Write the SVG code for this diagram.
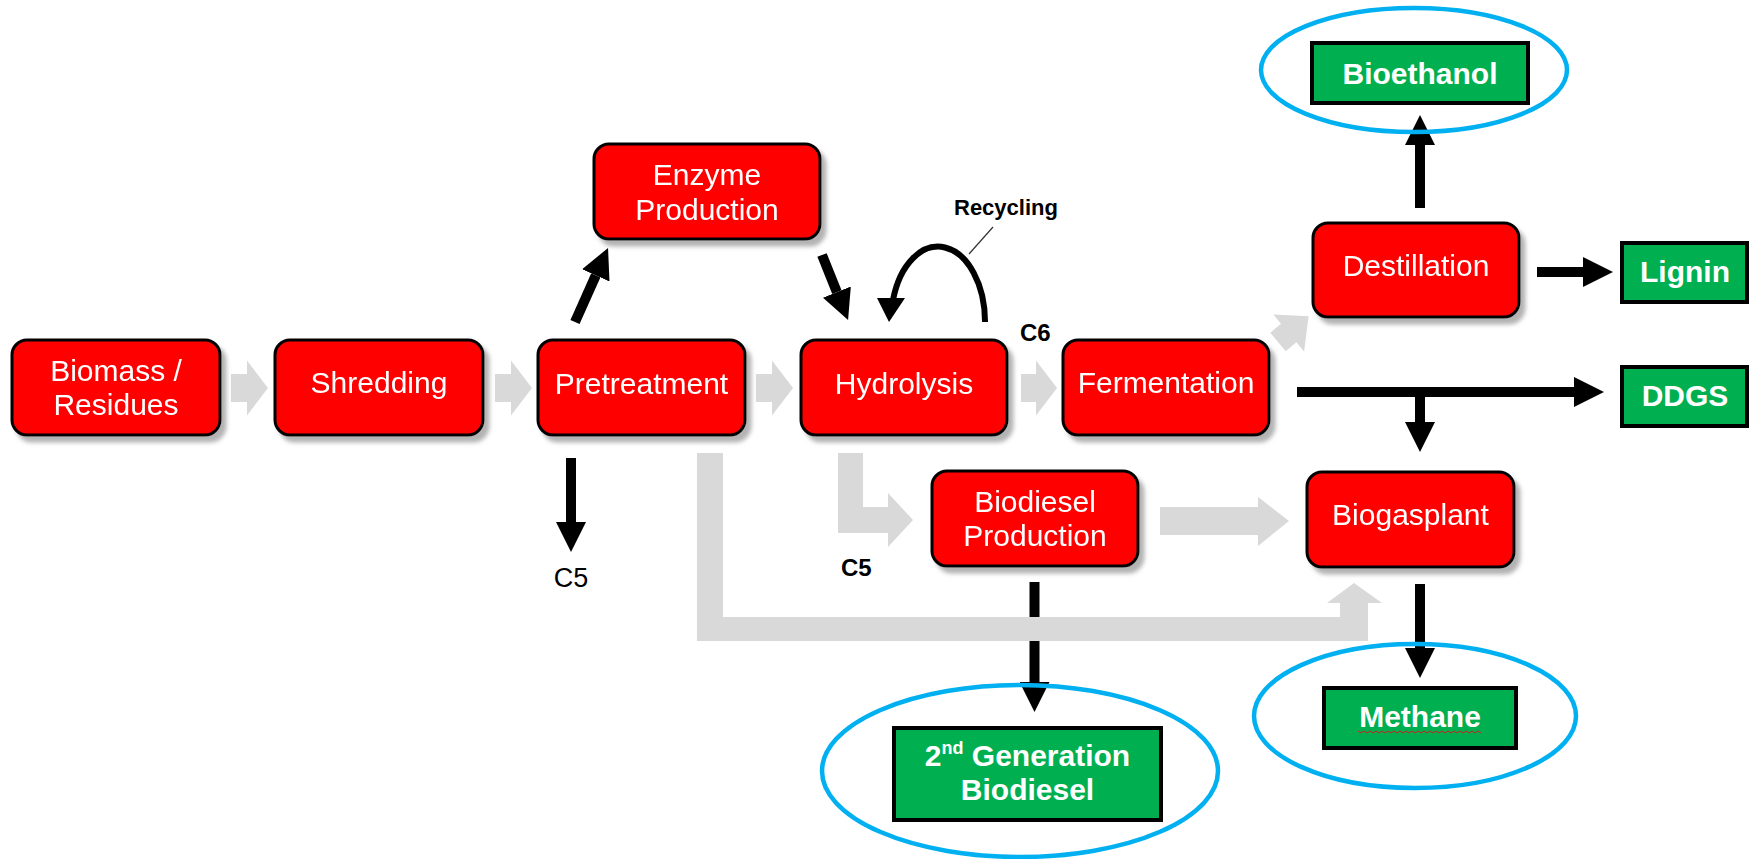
<svg xmlns="http://www.w3.org/2000/svg" width="1750" height="859" viewBox="0 0 1750 859">
<defs>
<style>
.box{fill:#ff0000;stroke:#000;stroke-width:3}
.gbox{fill:#00b050;stroke:#000;stroke-width:4}
.t{font-family:"Liberation Sans",Arial,sans-serif;font-size:30px;fill:#fff;text-anchor:middle}
.tb{font-weight:bold}
.lbl{font-family:"Liberation Sans",Arial,sans-serif;fill:#000}
.blk{stroke:#000;stroke-width:10;fill:none}
.gray{fill:#d9d9d9}
.ring{fill:none;stroke:#00b0f0;stroke-width:4.5}
</style>
<filter id="sh" x="-10%" y="-10%" width="130%" height="140%">
<feDropShadow dx="5" dy="6" stdDeviation="2" flood-color="#808080" flood-opacity="0.6"/>
</filter>
<marker id="ah" markerUnits="userSpaceOnUse" markerWidth="30" markerHeight="30" viewBox="0 0 30 30" refX="0" refY="15" orient="auto">
<path d="M0,0 L30,15 L0,30 z" fill="#000"/>
</marker>
</defs>
<rect width="1750" height="859" fill="#fff"/>

<g id="connectors">
<!-- gray flow arrows -->
<polygon class="gray" points="231,374 247,374 247,360.5 268,388 247,415.5 247,402 231,402"/>
<polygon class="gray" points="495,374 511,374 511,360.5 532,388 511,415.5 511,402 495,402"/>
<polygon class="gray" points="756,374 772,374 772,360.5 793,388 772,415.5 772,402 756,402"/>
<polygon class="gray" points="1021,374 1036,374 1036,360.5 1057,388 1036,415.5 1036,402 1021,402"/>
<polygon class="gray" points="1270.3,332.8 1281,323.8 1273.3,314.6 1308.6,316.3 1304.1,351.4 1296.4,342.2 1285.7,351.2"/>
<polygon class="gray" points="838,453 863,453 863,507 888,507 888,493 913,520 888,547 888,533 838,533"/>
<polygon class="gray" points="1160,507 1258,507 1258,497 1289,521 1258,546 1258,535 1160,535"/>
<!-- black arrows -->
<line class="blk" x1="571" y1="458" x2="571" y2="522" marker-end="url(#ah)"/>
<line class="blk" x1="575" y1="322" x2="595.8" y2="275.4" marker-end="url(#ah)"/>
<line class="blk" x1="822" y1="255" x2="836.9" y2="292.1" marker-end="url(#ah)"/>
<line class="blk" x1="1420" y1="208" x2="1420" y2="145" marker-end="url(#ah)"/>
<line class="blk" x1="1537" y1="272" x2="1583" y2="272" marker-end="url(#ah)"/>
<line class="blk" x1="1297" y1="392" x2="1574" y2="392" marker-end="url(#ah)"/>
<line class="blk" x1="1420" y1="392" x2="1420" y2="422" marker-end="url(#ah)"/>
<line class="blk" x1="1420" y1="584" x2="1420" y2="648" marker-end="url(#ah)"/>
<line class="blk" x1="1034.5" y1="582" x2="1034.5" y2="682" marker-end="url(#ah)"/>
<!-- gray L path from pretreatment to biogas plant (drawn over black line) -->
<polygon class="gray" points="697,453 723,453 723,617 1340,617 1340,603 1327,603 1354,583 1382,603 1368,603 1368,641 697,641"/>
<!-- recycling loop -->
<path d="M 985 322 A 47 75 0 0 0 893 300" fill="none" stroke="#000" stroke-width="6"/>
<polygon points="877,298 905,298 889,322" fill="#000"/>
<line x1="993" y1="227" x2="969" y2="254" stroke="#333" stroke-width="1.2"/>
</g>

<g id="labels">
<text class="lbl tb" x="954" y="215" font-size="22">Recycling</text>
<text class="lbl tb" x="1020" y="341" font-size="24">C6</text>
<text class="lbl" x="571" y="587" font-size="27" text-anchor="middle">C5</text>
<text class="lbl tb" x="841" y="576" font-size="24">C5</text>
</g>

<g id="biomass" filter="url(#sh)">
<rect class="box" x="12" y="340" width="208" height="95" rx="15"/>
<text class="t" x="116" y="381">Biomass /</text>
<text class="t" x="116" y="415">Residues</text>
</g>
<g id="shredding" filter="url(#sh)">
<rect class="box" x="275" y="340" width="208" height="95" rx="15"/>
<text class="t" x="379" y="393">Shredding</text>
</g>
<g id="pretreatment" filter="url(#sh)">
<rect class="box" x="538" y="340" width="207" height="95" rx="15"/>
<text class="t" x="641.5" y="394">Pretreatment</text>
</g>
<g id="hydrolysis" filter="url(#sh)">
<rect class="box" x="801" y="340" width="206" height="95" rx="15"/>
<text class="t" x="904" y="394">Hydrolysis</text>
</g>
<g id="fermentation" filter="url(#sh)">
<rect class="box" x="1063" y="340" width="206" height="95" rx="15"/>
<text class="t" x="1166" y="393">Fermentation</text>
</g>
<g id="enzyme" filter="url(#sh)">
<rect class="box" x="594" y="144" width="226" height="95" rx="15"/>
<text class="t" x="707" y="185">Enzyme</text>
<text class="t" x="707" y="220">Production</text>
</g>
<g id="destillation" filter="url(#sh)">
<rect class="box" x="1313" y="223" width="206" height="94" rx="15"/>
<text class="t" x="1416" y="276">Destillation</text>
</g>
<g id="biodiesel" filter="url(#sh)">
<rect class="box" x="932" y="471" width="206" height="95" rx="15"/>
<text class="t" x="1035" y="512">Biodiesel</text>
<text class="t" x="1035" y="546">Production</text>
</g>
<g id="biogasplant" filter="url(#sh)">
<rect class="box" x="1307" y="472" width="207" height="95" rx="15"/>
<text class="t" x="1410.5" y="525">Biogasplant</text>
</g>

<g id="bioethanol">
<rect class="gbox" x="1312" y="43" width="216" height="60"/>
<text class="t tb" x="1420" y="84" font-size="32">Bioethanol</text>
</g>
<g id="lignin">
<rect class="gbox" x="1622" y="243" width="125" height="59"/>
<text class="t tb" x="1685" y="282">Lignin</text>
</g>
<g id="ddgs">
<rect class="gbox" x="1622" y="367" width="125" height="59"/>
<text class="t tb" x="1685" y="406">DDGS</text>
</g>
<g id="methane">
<rect class="gbox" x="1324" y="688" width="192" height="60"/>
<text class="t tb" x="1420" y="727">Methane</text>
<path d="M1358,731 l3,2 l3,-2 l3,2 l3,-2 l3,2 l3,-2 l3,2 l3,-2 l3,2 l3,-2 l3,2 l3,-2 l3,2 l3,-2 l3,2 l3,-2 l3,2 l3,-2 l3,2 l3,-2 l3,2 l3,-2 l3,2 l3,-2 l3,2 l3,-2 l3,2 l3,-2 l3,2 l3,-2 l3,2 l3,-2 l3,2 l3,-2 l3,2 l3,-2 l3,2 l3,-2 l3,2 l3,-2 l3,2" fill="none" stroke="#d02020" stroke-width="1"/>
</g>
<g id="biodiesel2">
<rect class="gbox" x="894" y="728" width="267" height="92"/>
<text class="t tb" x="1027.5" y="766">2<tspan font-size="18" dy="-12">nd</tspan><tspan dy="12"> Generation</tspan></text>
<text class="t tb" x="1027.5" y="800">Biodiesel</text>
</g>

<g id="highlights">
<ellipse class="ring" cx="1414" cy="70" rx="153" ry="62"/>
<ellipse class="ring" cx="1020" cy="771" rx="198" ry="86"/>
<ellipse class="ring" cx="1415" cy="716" rx="161" ry="72"/>
</g>
</svg>
